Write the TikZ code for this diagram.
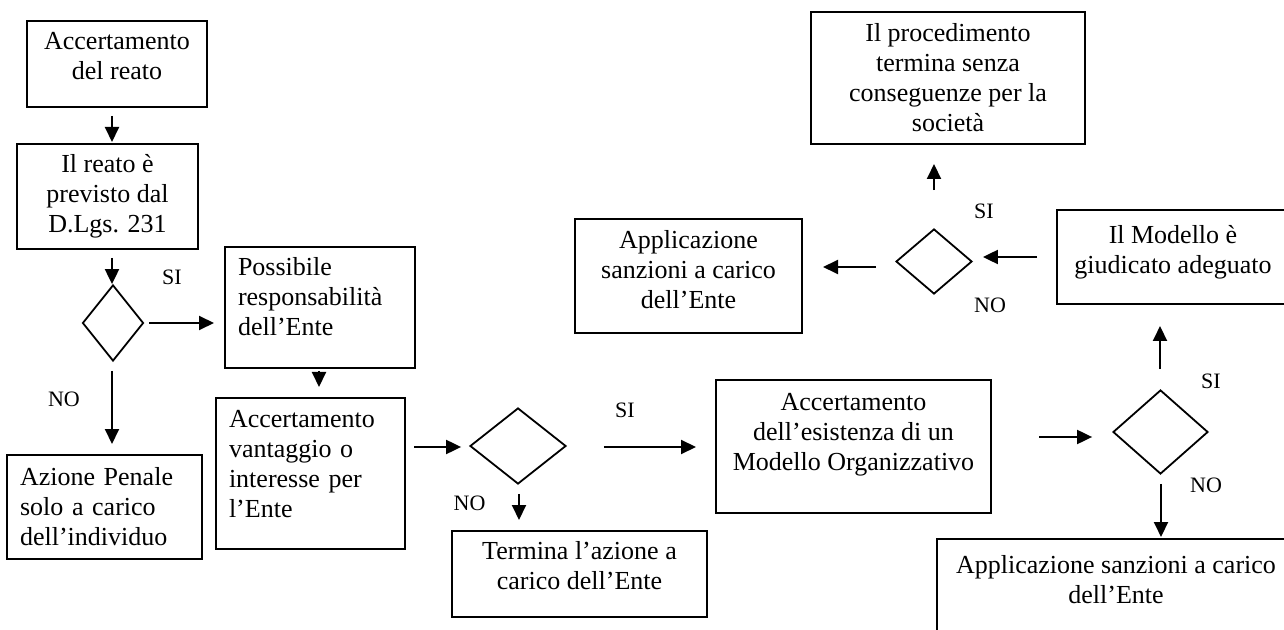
\documentclass[tikz,border=0pt]{standalone}
\usepackage{amsmath, amssymb, tikz}
\usepackage{fontspec}
\setmainfont{Liberation Serif}
\usetikzlibrary{shapes.geometric, arrows.meta}
\newcommand{\botgap}[1]{\rule[-#1]{0pt}{0pt}}
\tikzset{
  box/.style={draw, line width=1pt, font=\fontsize{13}{15}\selectfont, align=center, inner sep=0pt},
  lbox/.style={box, align=left, inner xsep=6.5pt},
  dia/.style={draw, diamond, line width=0.9pt, inner sep=0pt},
  arr/.style={line width=1pt, -{Triangle[length=7.5pt,width=7pt]}},
  lab/.style={font=\fontsize{11}{13}\selectfont, inner sep=0pt}
}
\begin{document}
\begin{tikzpicture}[x=0.5pt, y=-0.5pt]
\path[use as bounding box, clip] (0,0) rectangle (1284,630);
\node[box, minimum width=90pt, minimum height=43pt] (reato) at (117,64) {Accertamento\\del reato\botgap{8pt}};
\node[box, minimum width=90.5pt, minimum height=52.5pt] (previsto) at (107.5,196.5) {Il reato è\\previsto dal\\D.Lgs. 231};
\node[dia, minimum width=30.5pt, minimum height=38pt] (d1) at (113,323) {};
\node[lbox, text width=82pt, minimum height=60.5pt] (possibile) at (320,307.5) {Possibile\\responsabilità\\dell'Ente\botgap{11pt}};
\node[lbox, text width=81.5pt, minimum height=75.5pt] (vantaggio) at (310.5,473.5) {Accertamento\\vantaggio o\\interesse per\\l'Ente\botgap{10pt}};
\node[lbox, text width=84.5pt, minimum height=52pt] (individuo) at (104.5,507) {Azione Penale\\solo a carico\\dell'individuo};
\node[dia, minimum width=48pt, minimum height=38pt] (d2) at (518,446) {};
\node[box, minimum width=127.5pt, minimum height=43pt] (termina) at (579.5,574) {Termina l'azione a\\carico dell'Ente\botgap{9pt}};
\node[box, minimum width=137.5pt, minimum height=66.5pt] (esistenza) at (853.5,446.5) {Accertamento\\dell'esistenza di un\\Modello Organizzativo\botgap{15pt}};
\node[dia, minimum width=47.5pt, minimum height=42pt] (d3) at (1160.5,432) {};
\node[box, minimum width=179pt, minimum height=60pt] (sanzB) at (1116,599) {Applicazione sanzioni a carico\\dell'Ente\\\strut};
\node[box, minimum width=116pt, minimum height=47pt] (adeguato) at (1173,257) {Il Modello è\\giudicato adeguato\botgap{8pt}};
\node[dia, minimum width=38pt, minimum height=32.5pt] (d4) at (934,261.5) {};
\node[box, minimum width=137pt, minimum height=66pt] (procedimento) at (948,78) {Il procedimento\\termina senza\\conseguenze per la\\società};
\node[box, minimum width=113.5pt, minimum height=57pt] (sanzA) at (688.5,276) {Applicazione\\sanzioni a carico\\dell'Ente\botgap{7pt}};

\node[lab] (si1) at (172,277) {SI};
\node[lab] (no1) at (64,399) {NO};
\node[lab] (si2) at (625,410) {SI};
\node[lab] (no2) at (469.5,503) {NO};
\node[lab] (si3) at (1211,381.5) {SI};
\node[lab] (no3) at (1206,485) {NO};
\node[lab] (si4) at (984,211.5) {SI};
\node[lab] (no4) at (990,305.5) {NO};

\draw[arr] ([shift={(-5,8)}]reato.south) -- ([shift={(4.5,-1)}]previsto.north);
\draw[arr] ([shift={(4.5,8)}]previsto.south) -- ([shift={(-1,0)}]d1.north);
\draw[arr] ([shift={(5,0)}]d1.east) -- ([shift={(-10,15.5)}]possibile.west);
\draw[arr] ([shift={(-1,9)}]d1.south) -- ([shift={(7.5,-10)}]individuo.north);
\draw[arr] ([shift={(-1,2)}]possibile.south) -- ([shift={(8.5,-10)}]vantaggio.north);
\draw[arr] ([shift={(8,-26.5)}]vantaggio.east) -- ([shift={(-8,1)}]d2.west);
\draw[arr] ([shift={(37,1)}]d2.east) -- ([shift={(-19,0.5)}]esistenza.west);
\draw[arr] ([shift={(1,9)}]d2.south) -- ([shift={(-60.5,-10)}]termina.north);
\draw[arr] ([shift={(47,-9.5)}]esistenza.east) -- ([shift={(-20,5)}]d3.west);
\draw[arr] ([shift={(0.5,9)}]d3.south) -- ([shift={(45,-1)}]sanzB.north);
\draw[arr] ([shift={(-0.5,-20)}]d3.north) -- ([shift={(-13,21)}]adeguato.south);
\draw[arr] ([shift={(-19,0)}]adeguato.west) -- ([shift={(10,-4.5)}]d4.east);
\draw[arr] ([shift={(0,-38)}]d4.north) -- ([shift={(-14,19)}]procedimento.south);
\draw[arr] ([shift={(-19,5.5)}]d4.west) -- ([shift={(20,-9)}]sanzA.east);
\end{tikzpicture}
\end{document}
